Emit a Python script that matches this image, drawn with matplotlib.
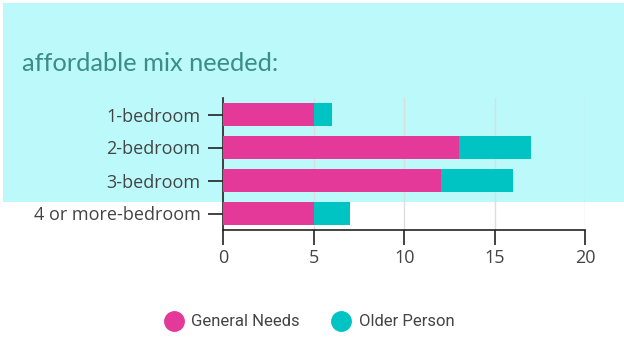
import matplotlib.pyplot as plt
from matplotlib.patches import Rectangle
from matplotlib.lines import Line2D

categories = ['1-bedroom', '2-bedroom', '3-bedroom', '4 or more-bedroom']
general_needs = [5, 13, 12, 5]
older_person = [1, 4, 4, 2]
x_ticks = [0, 5, 10, 15, 20]

pink = '#e5399a'
teal = '#00c4c4'

W, H = 624, 349
fig = plt.figure(figsize=(W / 100, H / 100), dpi=100)
fig.patch.set_facecolor('white')

# light cyan panel behind the title and top of the chart
fig.patches.append(Rectangle((3 / W, 1 - 202 / H), (W - 3) / W, 199 / H,
                             transform=fig.transFigure, facecolor='#bbf9fb',
                             edgecolor='none', zorder=0))

fig.text(22 / W, 1 - 71 / H, 'affordable mix needed:', fontsize=18.3,
         family='Lato', color='#3b8d89', va='baseline', ha='left')

ax = fig.add_axes([223.3 / W, 1 - 230 / H, 362 / W, 132 / H])
ax.set_facecolor('none')
ax.set_zorder(2)

y = list(range(len(categories)))
ax.barh(y, general_needs, height=0.68, color=pink, zorder=3)
ax.barh(y, older_person, left=general_needs, height=0.68, color=teal, zorder=3)

ax.set_xlim(0, 20)
ax.set_ylim(len(categories) - 0.5, -0.5)
ax.set_xticks(x_ticks)
ax.set_yticks(y)
ax.set_yticklabels(categories)
ax.grid(axis='x', color='#dddddd', linewidth=1, zorder=0)

for s in ['top', 'right']:
    ax.spines[s].set_visible(False)
for s in ['left', 'bottom']:
    ax.spines[s].set_color('#222222')
    ax.spines[s].set_linewidth(1.2)
ax.tick_params(length=10.5, width=1.2, color='#222222', labelsize=13,
               labelcolor='#444444')
ax.tick_params(axis='y', pad=6)
ax.tick_params(axis='x', pad=3)
for lbl in ax.get_xticklabels() + ax.get_yticklabels():
    lbl.set_family('Open Sans')

handles = [Line2D([], [], marker='o', linestyle='none', markersize=14,
                  markerfacecolor=c, markeredgecolor=c) for c in (pink, teal)]
leg = fig.legend(handles, ['General Needs', 'Older Person'], loc='center',
                 bbox_to_anchor=(309 / W, 1 - 322 / H), ncol=2, frameon=False,
                 prop={'family': 'Roboto', 'size': 12}, handletextpad=0.45,
                 columnspacing=1.9, handlelength=1.2)
for t in leg.get_texts():
    t.set_color('#444444')

fig.savefig('out.png', dpi=100)
